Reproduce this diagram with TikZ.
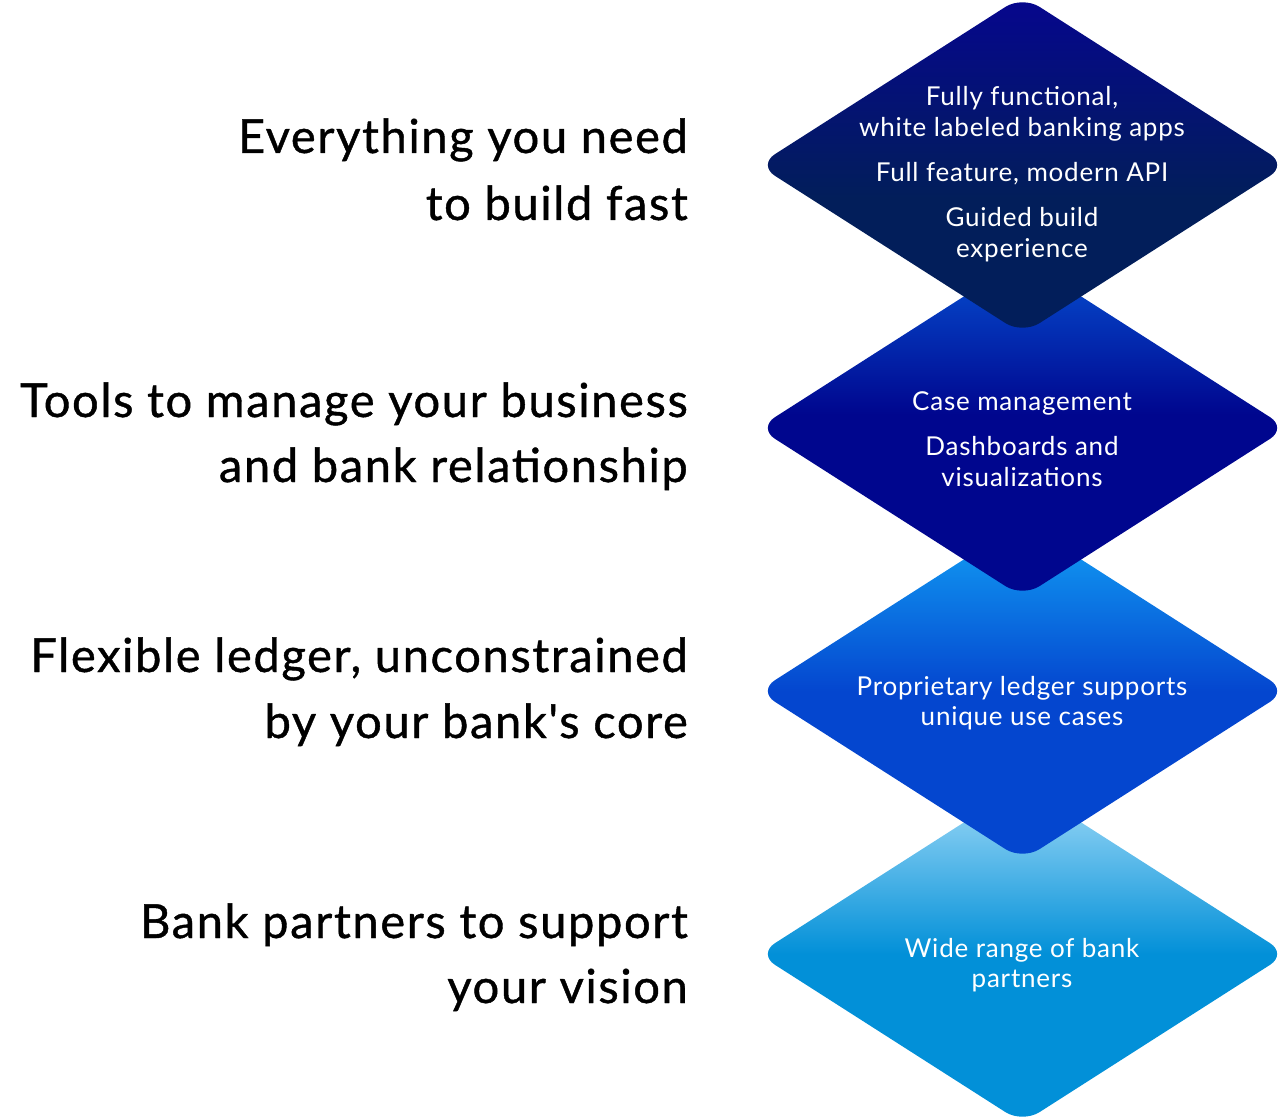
\documentclass[tikz,border=0pt]{standalone}
\usepackage{fontspec}
\newfontfamily\headfont[FakeBold=0.9,LetterSpace=3.5]{Lato}
\newfontfamily\bodyfont[LetterSpace=3]{Lato}
\definecolor{aTop}{HTML}{06068E}
\definecolor{aBot}{HTML}{021E5A}
\definecolor{bTop}{HTML}{0650D2}
\definecolor{bBot}{HTML}{00068E}
\definecolor{cTop}{HTML}{12A2F6}
\definecolor{cBot}{HTML}{0446CF}
\definecolor{dTop}{HTML}{A2DBF8}
\definecolor{dBot}{HTML}{0290D8}
\pgfdeclareverticalshading{gemA}{100bp}{color(0bp)=(aBot); color(45bp)=(aBot); color(75bp)=(aTop); color(100bp)=(aTop)}
\pgfdeclareverticalshading{gemB}{100bp}{color(0bp)=(bBot); color(52bp)=(bBot); color(75bp)=(bTop); color(100bp)=(bTop)}
\pgfdeclareverticalshading{gemC}{100bp}{color(0bp)=(cBot); color(50bp)=(cBot); color(75bp)=(cTop); color(100bp)=(cTop)}
\pgfdeclareverticalshading{gemD}{100bp}{color(0bp)=(dBot); color(50bp)=(dBot); color(75bp)=(dTop); color(100bp)=(dTop)}
\begin{document}
\begin{tikzpicture}[x=1pt,y=-1pt,
  head/.style={anchor=base east, font=\headfont\fontsize{47}{50}\selectfont, text=black, inner sep=0pt},
  body/.style={anchor=base, font=\bodyfont\fontsize{26}{30}\selectfont, text=white, inner sep=0pt},
  gem/.style={rounded corners=20pt, draw=none}]
\useasboundingbox (0,0) rectangle (1278,1118);

% diamonds, bottom first
\shade[gem, shading=gemD]
  (1022.5,785) -- (1287,954) -- (1022.5,1123) -- (758,954) -- cycle;
\shade[gem, shading=gemC]
  (1022.5,522) -- (1287,691) -- (1022.5,860) -- (758,691) -- cycle;
\shade[gem, shading=gemB]
  (1022.5,259) -- (1287,428) -- (1022.5,597) -- (758,428) -- cycle;
\shade[gem, shading=gemA]
  (1022.5,-4) -- (1287,165) -- (1022.5,334) -- (758,165) -- cycle;

% left headings
\node[head] (h1a) at (688,153) {Everything you need};
\node[head] (h1b) at (688,220) {to build fast};
\node[head] (h2a) at (688,417) {Tools to manage your business};
\node[head] (h2b) at (688,482) {and bank relationship};
\node[head] (h3a) at (688,672) {Flexible ledger, unconstrained};
\node[head] (h3b) at (688,738) {by your bank's core};
\node[head] (h4a) at (688,938) {Bank partners to support};
\node[head] (h4b) at (688,1003) {your vision};

% diamond texts
\node[body] (t1a) at (1022,106) {Fully functional,};
\node[body] (t1b) at (1022,137) {white labeled banking apps};
\node[body] (t1c) at (1022,182) {Full feature, modern API};
\node[body] (t1d) at (1022,227) {Guided build};
\node[body] (t1e) at (1022,258) {experience};
\node[body] (t2a) at (1022,410) {Case management};
\node[body] (t2b) at (1022,455) {Dashboards and};
\node[body] (t2c) at (1022,486) {visualizations};
\node[body] (t3a) at (1022,695) {Proprietary ledger supports};
\node[body] (t3b) at (1022,725) {unique use cases};
\node[body] (t4a) at (1022,957) {Wide range of bank};
\node[body] (t4b) at (1022,987) {partners};
\end{tikzpicture}
\end{document}
